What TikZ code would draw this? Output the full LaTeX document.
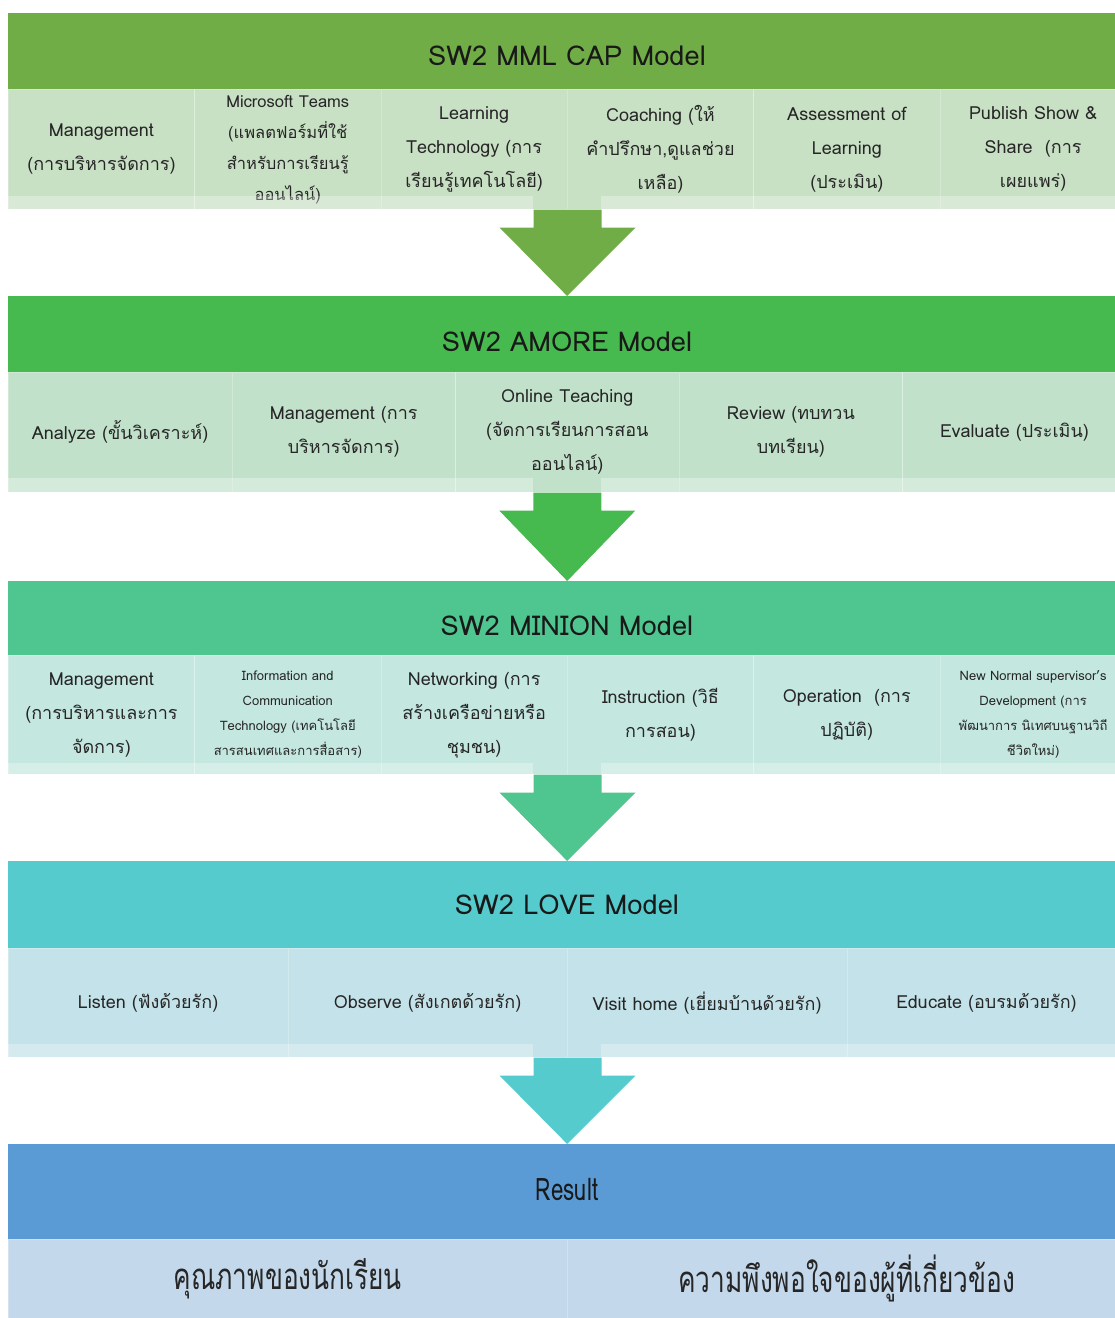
\documentclass[tikz,border=0pt]{standalone}
\usepackage{fontspec}
\setmainfont[Script=Thai]{Loma}
\newfontfamily\narrowfont[Script=Thai,FakeStretch=0.72]{Loma}
\usetikzlibrary{calc}

\definecolor{mmlDark}{HTML}{70AD47}
\definecolor{mmlLight}{HTML}{C8E0C4}
\definecolor{amoreDark}{HTML}{47BA4F}
\definecolor{amoreLight}{HTML}{C2E1CA}
\definecolor{minionDark}{HTML}{4FC58F}
\definecolor{minionLight}{HTML}{C4E7DF}
\definecolor{loveDark}{HTML}{55CBCD}
\definecolor{loveLight}{HTML}{C4E2E9}
\definecolor{resultDark}{HTML}{5B9BD5}
\definecolor{resultLight}{HTML}{C4D8EC}

\newcommand{\cellfont}{\fontsize{18}{34}\selectfont}
\newcommand{\smallcellfont}{\fontsize{13}{25}\selectfont}

\tikzset{
  header/.style={fill=#1, anchor=north west, minimum width=1118pt, inner sep=0pt},
  cell/.style={fill=#1, draw=white, draw opacity=0.25, line width=0.6pt,
    anchor=north west, inner sep=0pt, align=center, text=black!85, font=\cellfont},
  title/.style={font=\fontsize{27.3}{32}\selectfont, text=black!90},
  strip/.style={fill=white, fill opacity=0.3},
}

% block arrow: from the bottom of a cell row down to the next header
\newcommand{\flowarrow}[3]{%
  \fill[#3] ($(#1)+(-34,0)$) -- ($(#1)+(34,0)$) -- ($(#1)+(34,18)$) -- ($(#1)+(68,18)$)
    -- (#2) -- ($(#1)+(-68,18)$) -- ($(#1)+(-34,18)$) -- cycle;}

\begin{document}
\begin{tikzpicture}[x=1pt, y=-1pt]
\useasboundingbox (0,0) rectangle (1115,1318);
\clip (0,0) rectangle (1115,1318);

% SW2 MML CAP Model
\node[header=mmlDark, minimum height=76pt] (h1) at (8,13) {};
\node[title] (t1) at (567,56) {SW2 MML CAP Model};
\node[cell=mmlLight, minimum width=186.33pt, minimum height=120pt] (c1-1) at (8,89) {Management\\(การบริหารจัดการ)};
\node[cell=mmlLight, minimum width=186.33pt, minimum height=120pt, font=\fontsize{16.5}{31}\selectfont] (c1-2) at (194.33,89) {Microsoft Teams\\(แพลตฟอร์มที่ใช้\\สำหรับการเรียนรู้\\ออนไลน์)};
\node[cell=mmlLight, minimum width=186.33pt, minimum height=120pt] (c1-3) at (380.67,89) {Learning\\Technology (การ\\เรียนรู้เทคโนโลยี)};
\node[cell=mmlLight, minimum width=186.33pt, minimum height=120pt] (c1-4) at (567,89) {Coaching (ให้\\คำปรึกษา,ดูแลช่วย\\เหลือ)};
\node[cell=mmlLight, minimum width=186.33pt, minimum height=120pt] (c1-5) at (753.33,89) {Assessment of\\Learning\\(ประเมิน)};
\node[cell=mmlLight, minimum width=186.33pt, minimum height=120pt] (c1-6) at (939.67,89) {Publish Show \&\\Share\ \ (การ\\เผยแพร่)};
\fill[strip] (8,196) rectangle (533,209);
\fill[strip] (601,196) rectangle (1126,209);

% SW2 AMORE Model
\node[header=amoreDark, minimum height=76pt] (h2) at (8,296) {};
\node[title] (t2) at (567,342) {SW2 AMORE Model};
\node[cell=amoreLight, minimum width=223.6pt, minimum height=120pt] (c2-1) at (8,372) {Analyze (ขั้นวิเคราะห์)};
\node[cell=amoreLight, minimum width=223.6pt, minimum height=120pt] (c2-2) at (231.6,372) {Management (การ\\บริหารจัดการ)};
\node[cell=amoreLight, minimum width=223.6pt, minimum height=120pt] (c2-3) at (455.2,372) {Online Teaching\\(จัดการเรียนการสอน\\ออนไลน์)};
\node[cell=amoreLight, minimum width=223.6pt, minimum height=120pt] (c2-4) at (678.8,372) {Review (ทบทวน\\บทเรียน)};
\node[cell=amoreLight, minimum width=223.6pt, minimum height=120pt] (c2-5) at (902.4,372) {Evaluate (ประเมิน)};
\fill[strip] (8,478) rectangle (533,492);
\fill[strip] (601,478) rectangle (1126,492);

% SW2 MINION Model
\node[header=minionDark, minimum height=74pt] (h3) at (8,581) {};
\node[title] (t3) at (567,626) {SW2 MINION Model};
\node[cell=minionLight, minimum width=186.33pt, minimum height=119pt] (c3-1) at (8,655) {Management\\(การบริหารและการ\\จัดการ)};
\node[cell=minionLight, minimum width=186.33pt, minimum height=119pt, font=\smallcellfont] (c3-2) at (194.33,655) {Information and\\Communication\\Technology (เทคโนโลยี\\สารสนเทศและการสื่อสาร)};
\node[cell=minionLight, minimum width=186.33pt, minimum height=119pt] (c3-3) at (380.67,655) {Networking (การ\\สร้างเครือข่ายหรือ\\ชุมชน)};
\node[cell=minionLight, minimum width=186.33pt, minimum height=119pt] (c3-4) at (567,655) {Instruction (วิธี\\การสอน)};
\node[cell=minionLight, minimum width=186.33pt, minimum height=119pt] (c3-5) at (753.33,655) {Operation\ \ (การ\\ปฏิบัติ)};
\node[cell=minionLight, minimum width=186.33pt, minimum height=119pt, font=\smallcellfont] (c3-6) at (939.67,655) {New Normal supervisor's\\Development (การ\\พัฒนาการ นิเทศบนฐานวิถี\\ชีวิตใหม่)};
\fill[strip] (8,763) rectangle (533,774);
\fill[strip] (601,763) rectangle (1126,774);

% SW2 LOVE Model
\node[header=loveDark, minimum height=87pt] (h4) at (8,861) {};
\node[title] (t4) at (567,905) {SW2 LOVE Model};
\node[cell=loveLight, minimum width=279.5pt, minimum height=109pt] (c4-1) at (8,948) {Listen (ฟังด้วยรัก)};
\node[cell=loveLight, minimum width=279.5pt, minimum height=109pt] (c4-2) at (287.5,948) {Observe (สังเกตด้วยรัก)};
\node[cell=loveLight, minimum width=279.5pt, minimum height=109pt] (c4-3) at (567,948) {Visit home (เยี่ยมบ้านด้วยรัก)};
\node[cell=loveLight, minimum width=279.5pt, minimum height=109pt] (c4-4) at (846.5,948) {Educate (อบรมด้วยรัก)};
\fill[strip] (8,1044) rectangle (533,1057);
\fill[strip] (601,1044) rectangle (1126,1057);

% Result
\node[header=resultDark, minimum height=95pt] (h5) at (8,1144) {};
\node[title, font={\narrowfont\fontsize{31}{34}\selectfont}] (t5) at (567,1189) {Result};
\node[cell=resultLight, minimum width=559pt, minimum height=79pt, font={\narrowfont\fontsize{36.5}{40}\selectfont}] (c5-1) at (8,1239) {คุณภาพของนักเรียน};
\node[cell=resultLight, minimum width=559pt, minimum height=79pt, font={\narrowfont\fontsize{36.5}{40}\selectfont}] (c5-2) at (567,1239) {ความพึงพอใจของผู้ที่เกี่ยวข้อง};

% arrows between the models
\flowarrow{c1-3.south east}{h2.north}{mmlDark}
\flowarrow{c2-3.south}{h3.north}{amoreDark}
\flowarrow{c3-3.south east}{h4.north}{minionDark}
\flowarrow{c4-2.south east}{h5.north}{loveDark}

\end{tikzpicture}
\end{document}
